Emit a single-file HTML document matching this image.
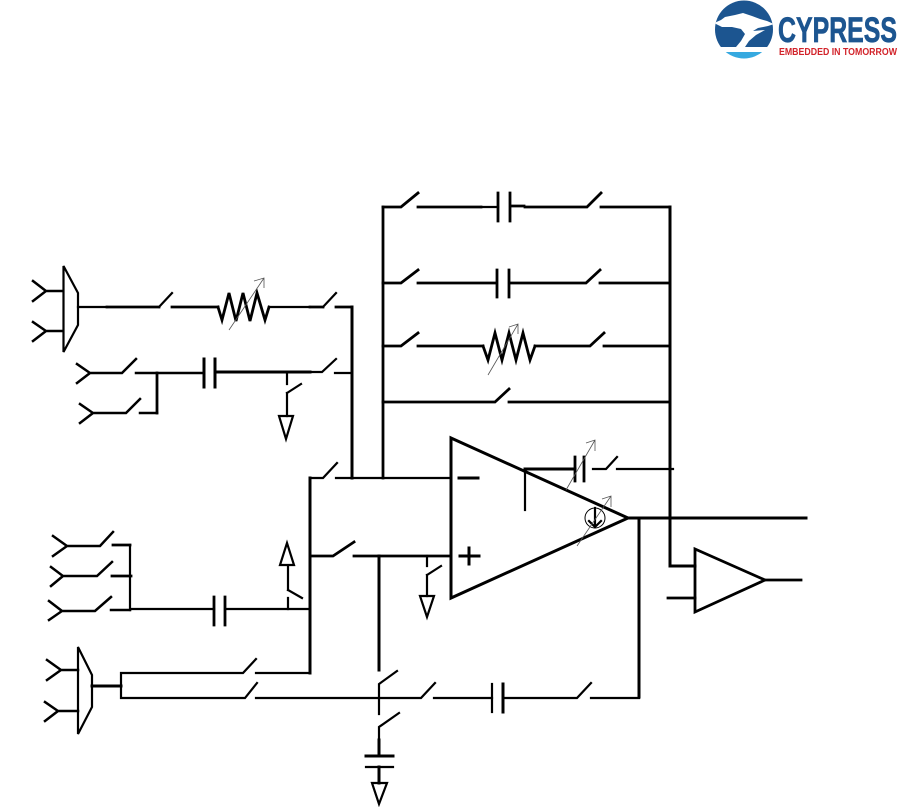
<!DOCTYPE html>
<html><head><meta charset="utf-8"><style>
html,body{margin:0;padding:0;background:#fff}
svg{display:block;position:absolute;left:0;top:0}
</style></head><body>
<svg width="903" height="807" viewBox="0 0 903 807" xmlns="http://www.w3.org/2000/svg">
<defs><clipPath id="c"><circle cx="744" cy="29.5" r="29"/></clipPath></defs>
<!-- logo -->
<g clip-path="url(#c)">
<rect x="714" y="0" width="60" height="47" fill="#1c5590"/>
<rect x="714" y="47" width="60" height="5" fill="#fff"/>
<rect x="714" y="52" width="60" height="8" fill="#36a9e0"/>
<path d="M714 23 L721 20 L725 17 L735 15 L743 13 L752 16 L760 19 L767 21 L774 24 L768 26 L758 28 L753 31 L765 30 L756 35 L749 41 L745 47 L736 47 L741 41 L745 34 L741 29 L732 27 L722 27 Z" fill="#fff"/>
</g>
<text x="778" y="42" font-family="'Liberation Sans',sans-serif" font-weight="700" font-size="35" fill="#1c5590" stroke="#1c5590" stroke-width="0.7" textLength="119" lengthAdjust="spacingAndGlyphs">CYPRESS</text>
<text x="779" y="55" font-family="'Liberation Sans',sans-serif" font-weight="700" font-size="10" fill="#d2232a" textLength="118" lengthAdjust="spacingAndGlyphs">EMBEDDED IN TOMORROW</text>

<g fill="none" stroke="#000" stroke-width="2.2" stroke-linejoin="miter" stroke-linecap="square">
<!-- top-left mux -->
<path stroke-width="2.5" d="M33 281L46 291L33 301M46 291H63M33 322L46 331L33 341M46 331H63"/>
<path d="M63.5 266L78 293V325L63.5 352Z"/>
<path d="M78 307H107"/>
<path stroke-width="2.8" d="M107 307H159"/>
<path stroke-width="2.2" d="M159 307L172 293"/>
<path stroke-width="2.8" d="M172 307H218"/>
<path stroke-width="2.8" d="M218 307L222 320L229 293L236 321L243 293L250 321L257 293L265 320L269 307"/>
<path d="M269 307H310"/>
<path stroke-width="2.8" d="M310 307H323M336 307H352"/>
<path d="M323 307L336 293"/>
<path stroke-width="3" d="M352 307V478"/>
<!-- row 2 -->
<path stroke-width="2.5" d="M77 364L90 373L77 383M90 373H122L136 359M136 373H204"/>
<path stroke-width="2.8" d="M157 373V413"/>
<path stroke-width="2.5" d="M80 404L93 413L80 423M93 413H126L140 399M140 413H157"/>
<path stroke-width="3" d="M204 359V387M215 359V387"/>
<path stroke-width="3" d="M216 372H310"/>
<path d="M310 372H322L336 359M335 373H352"/>
<path d="M287 374V384M287 393L301 384M287 393V416"/>
<path d="M279 416H293L286 439Z"/>
<!-- feedback -->
<path stroke-width="2.8" d="M383 207V478"/>
<path stroke-width="2.8" d="M383 207H401L418 193M418 207H481"/>
<path d="M481 207H498"/>
<path stroke-width="2.8" d="M498 193V221M510 193V221M510 206H524M525 207H587L601 193M601 207H670"/>
<path stroke-width="2.8" d="M383 283H401L418 270M418 283H497M497 270V297M509 270V297M509 283H586L600 270M600 283H670"/>
<path stroke-width="2.8" d="M383 346H401L418 333M418 346H483"/>
<path stroke-width="2.8" d="M483 346L488 360L495 333L502 360L509 333L516 360L523 333L530 360L535 346"/>
<path stroke-width="2.8" d="M535 346H590L604 333M604 346H670"/>
<path stroke-width="2.8" d="M383 402H495L509 389M509 402H670"/>
<path stroke-width="3" d="M670 207V566H695"/>
<!-- opamp -->
<path stroke-width="3" d="M451 438L628 518L451 598Z"/>
<path stroke-width="3" d="M459 478H478M460 556H479M469 548V564"/>
<path stroke-width="3" d="M310 478V673"/>
<path d="M310 478H323L337 463M336 478H451"/>
<path stroke-width="2.8" d="M310 556H333L354 542M354 556H451"/>
<path stroke-width="3" d="M379 556V670"/>
<path d="M427 556V566M427 575L441 566M427 575V596"/>
<path d="M420 596H434L427 617Z"/>
<path stroke-width="3" d="M525 469H575"/>
<path stroke-width="2.2" d="M525 469V510"/>
<path stroke-width="2.8" d="M575 457V481M584 457V481"/>
<path d="M593 469H606L617 457M617 469H673"/>
<path stroke-width="1" d="M595 518m-10 0a10 10 0 1 0 20 0a10 10 0 1 0 -20 0"/>
<path stroke-width="2.2" d="M595 508V527M589 521L595 527L601 521"/>
<path stroke-width="3" d="M628 518H806"/>
<path stroke-width="3" d="M639 518V697"/>
<!-- comparator -->
<path stroke-width="2.8" d="M695 549L765 580L695 612Z"/>
<path stroke-width="2.8" d="M668 598H695M765 580H801"/>
<!-- lower left inputs -->
<path stroke-width="2.5" d="M53 536L67 546L53 556M67 546H100L113 532"/>
<path stroke-width="2.8" d="M113 545H130"/>
<path stroke-width="2.5" d="M51 567L63 576L51 586M63 576H97L112 562"/>
<path stroke-width="2.8" d="M112 576H131"/>
<path stroke-width="2.5" d="M49 601L62 611L49 620M62 611H95L111 597M111 610H130"/>
<path d="M130 545V610M131 609H214"/>
<path stroke-width="2.8" d="M214 597V625M225 597V625"/>
<path d="M226 609H310"/>
<path d="M288 598V609M288 590L302 598M288 590V566"/>
<path d="M280 565H294L287 543Z"/>
<!-- lower mux -->
<path stroke-width="2.5" d="M47 660L61 670L47 680M61 670H78M45 702L58 711L45 721M58 711H78"/>
<path d="M78 647L92 675V707L78 734Z"/>
<path stroke-width="3" d="M92 686H121"/>
<path d="M121 673V698M121 673H243L256 659M256 673H310M121 698H245L257 683M256 698H421L435 683M434 698H492"/>
<path stroke-width="2.2" d="M492 684V712"/>
<path stroke-width="3" d="M503 684V712"/>
<path d="M505 698H577L591 683M591 698H639"/>
<path d="M397 671L379 684V714M399 713L379 727V740"/>
<path stroke-width="3" d="M379 740V756"/>
<path stroke-width="3" d="M366 756H393"/>
<path stroke-width="2.2" d="M366 767H393"/>
<path stroke-width="3" d="M379 767V783"/>
<path d="M372 783H387L379 804Z"/>
</g>
<!-- thin variable arrows -->
<g fill="none" stroke="#555" stroke-width="0.8">
<path d="M229 330L264 278M254 281L264 278V288"/>
<path d="M488 375L518 324M509 327L518 324V334"/>
<path d="M566 490L595 440M586 443L595 440V451"/>
<path d="M577 546L611 496M602 499L611 496V507"/>
</g>
</svg>
</body></html>
